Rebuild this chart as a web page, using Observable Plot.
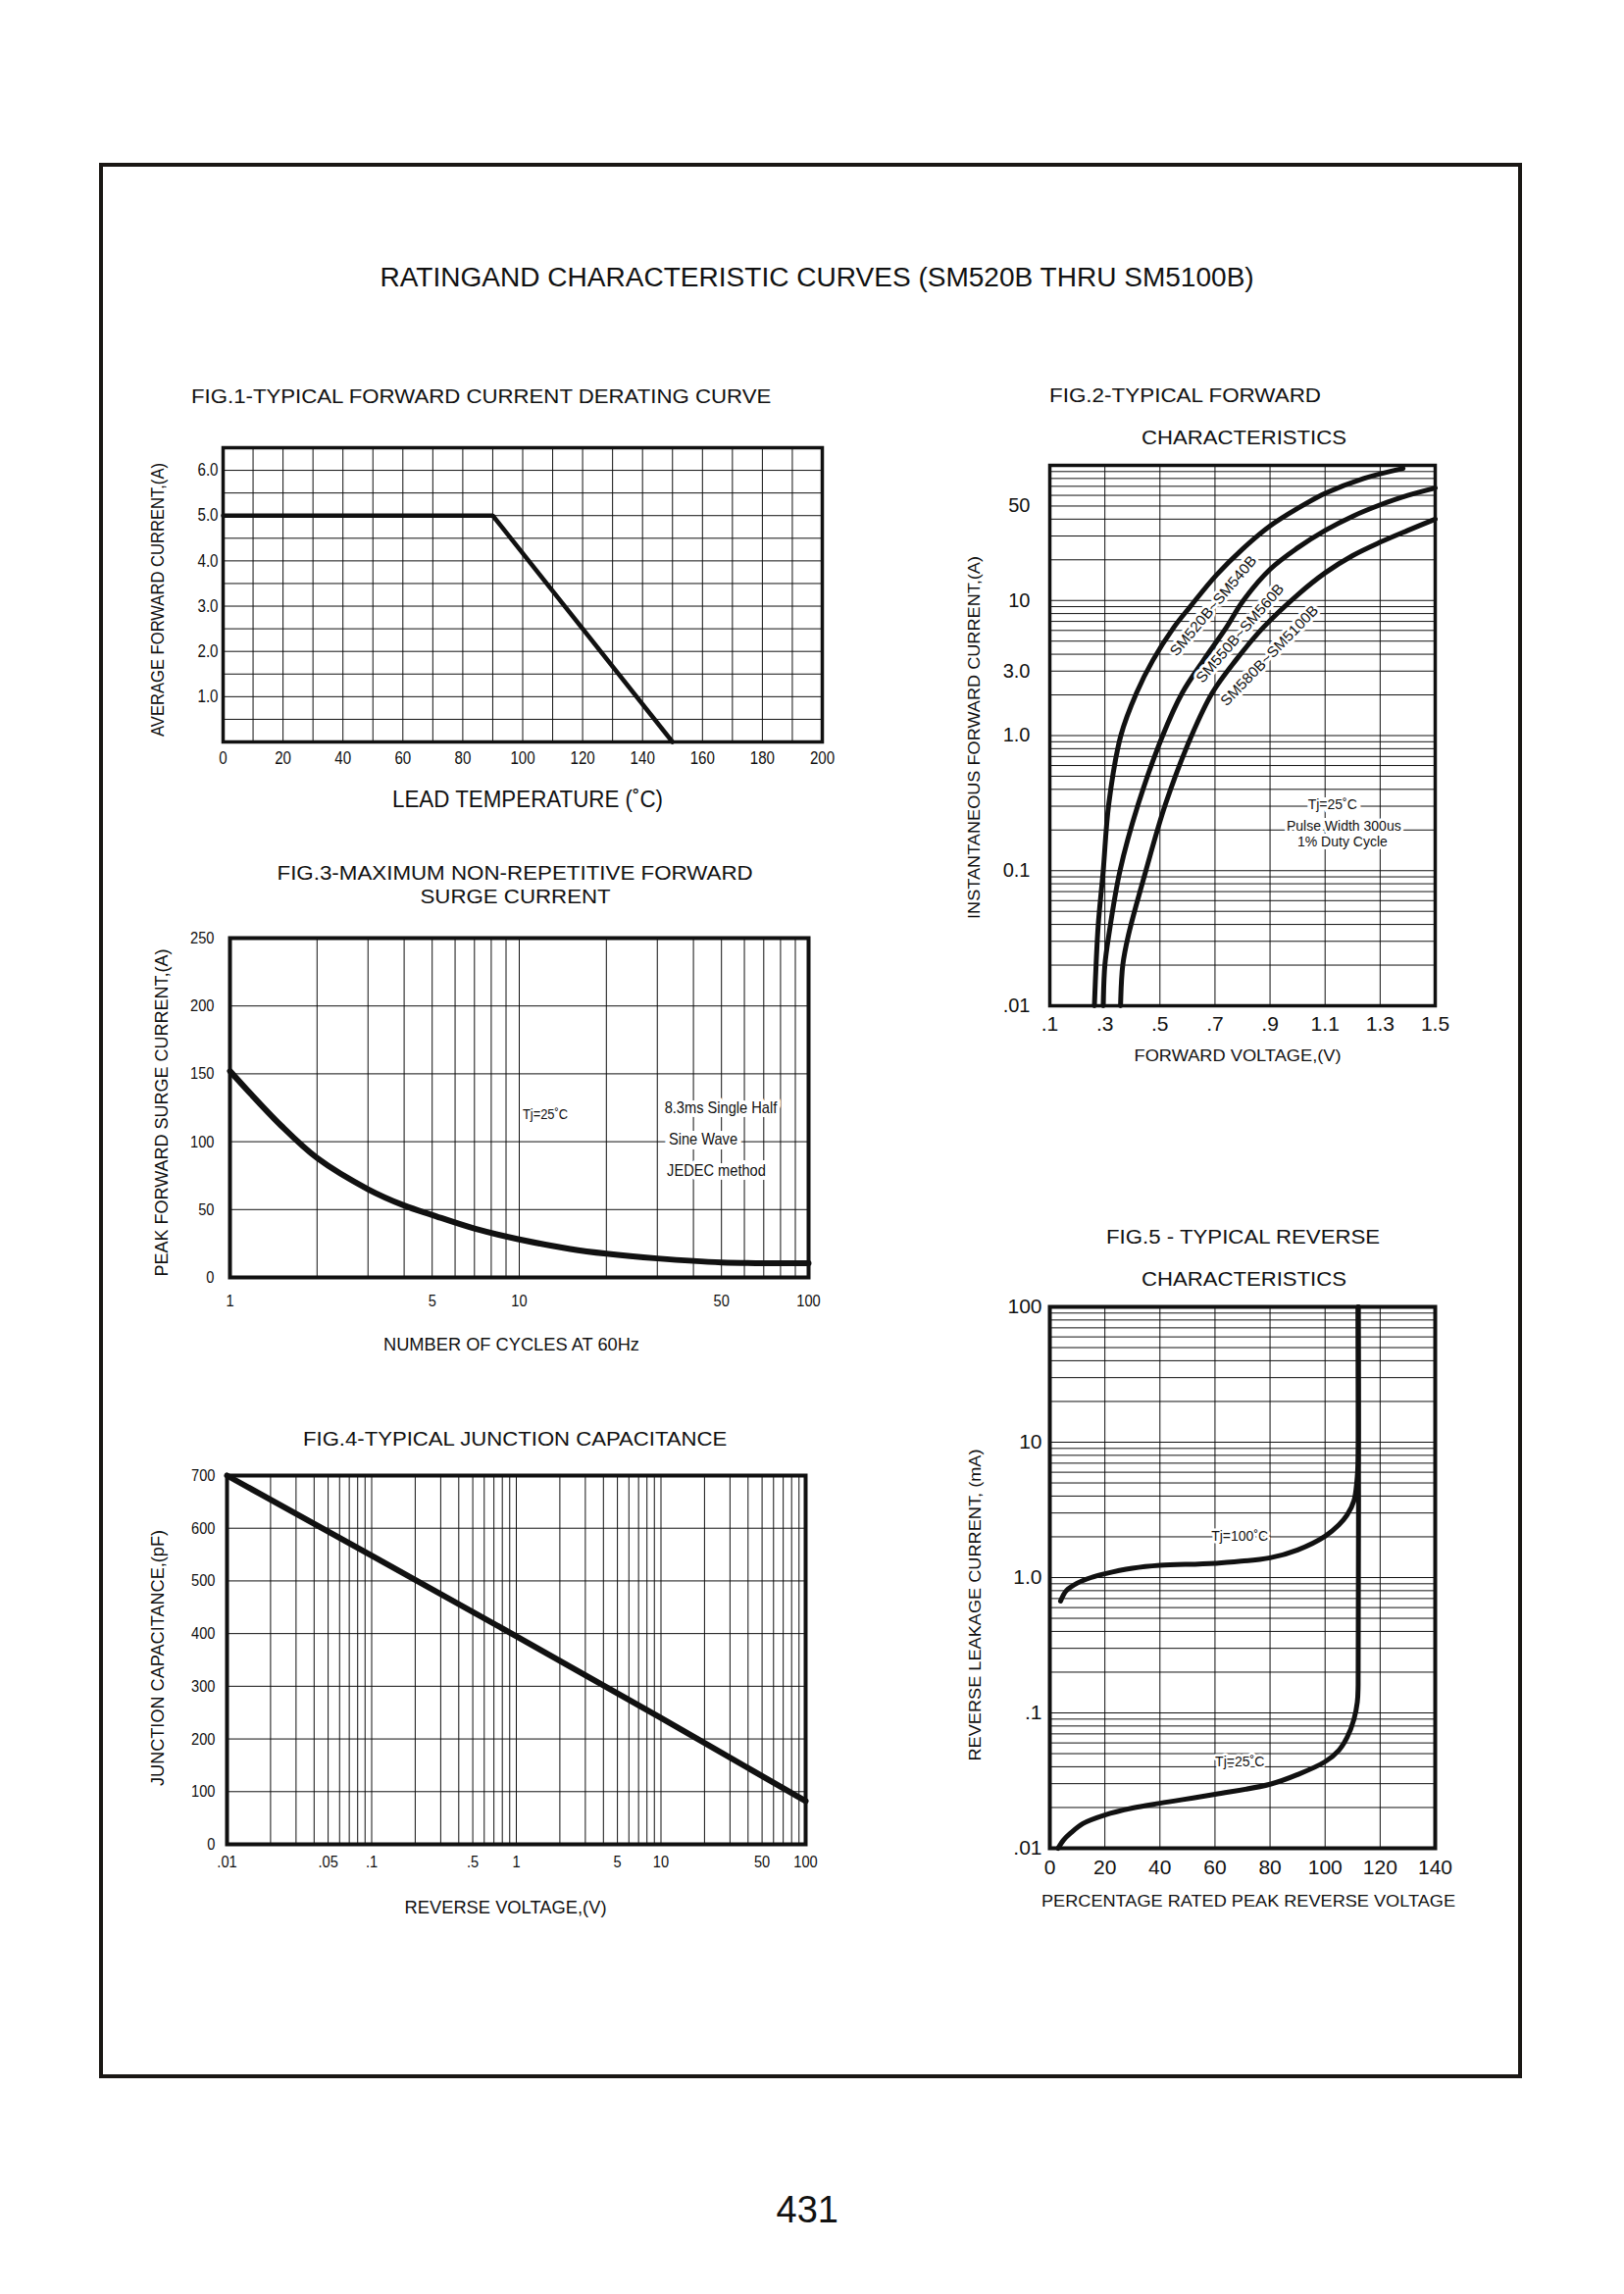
<!DOCTYPE html>
<html><head><meta charset="utf-8">
<script src="https://cdn.jsdelivr.net/npm/d3@7"></script>
<script src="https://cdn.jsdelivr.net/npm/@observablehq/plot@0.6"></script>
<style>
body{margin:0;background:#fff;}
#page{position:relative;width:1656px;height:2339px;overflow:hidden;font-family:"Liberation Sans",Arial,sans-serif;color:#111;background:#fff;}
.t{position:absolute;white-space:nowrap;line-height:1;}
#border{position:absolute;left:101px;top:166px;width:1451px;height:1953px;border:4px solid #1a1714;box-sizing:border-box;}
svg{position:absolute;overflow:visible;}
</style></head><body><div id="page"><div id="border"></div></div>
<script>
// ---------- DATA ----------
// Fig.1 derating curve
const fig1Temp = [0, 90, 150];
const fig1Current = [5.0, 5.0, 0.0];
const fig1XTicks = [0, 20, 40, 60, 80, 100, 120, 140, 160, 180, 200];
const fig1YTicks = [1, 2, 3, 4, 5, 6];

// Fig.2 forward characteristics
const fig2SeriesNames = ["SM520B~SM540B", "SM550B~SM560B", "SM580B~SM5100B"];
const fig2V_A = [0.262, 0.268, 0.276, 0.294, 0.314, 0.358, 0.415, 0.474, 0.55, 0.61, 0.705, 0.80, 0.90, 1.00, 1.10, 1.24, 1.383];
const fig2I_A = [0.01, 0.02, 0.04, 0.1, 0.31, 1.0, 2.07, 3.6, 6.3, 9.0, 15.4, 24, 35.6, 48, 62, 80, 95];
const fig2V_B = [0.294, 0.300, 0.314, 0.355, 0.421, 0.51, 0.581, 0.658, 0.741, 0.80, 0.90, 1.00, 1.10, 1.20, 1.30, 1.40, 1.50];
const fig2I_B = [0.01, 0.02, 0.033, 0.1, 0.31, 1.0, 2.07, 3.6, 6.3, 9.8, 17, 24.5, 33, 42, 51, 60, 68];
const fig2V_C = [0.357, 0.365, 0.385, 0.449, 0.52, 0.615, 0.69, 0.775, 0.875, 1.00, 1.10, 1.20, 1.30, 1.40, 1.50];
const fig2I_C = [0.01, 0.02, 0.033, 0.1, 0.31, 1.0, 2.07, 3.6, 6.3, 11, 16, 21.5, 27, 33, 40];
const fig2XTicks = [0.1, 0.3, 0.5, 0.7, 0.9, 1.1, 1.3, 1.5];
const fig2XLabels = [".1", ".3", ".5", ".7", ".9", "1.1", "1.3", "1.5"];
const fig2YTicks = [0.01, 0.1, 1, 3, 10, 50];
const fig2YLabels = [".01", "0.1", "1.0", "3.0", "10", "50"];
const fig2LabelPos = [[0.694, 9.1, -50], [0.791, 5.7, -49], [0.898, 3.9, -46]];

// Fig.3 surge current
const fig3Cycles = [1, 1.5, 2, 3, 4, 5, 7, 10, 15, 20, 30, 50, 70, 100];
const fig3Current = [152, 112, 88, 65, 53, 46, 36, 28, 21, 17.5, 14, 11, 10.5, 10.5];
const fig3XTicks = [1, 5, 10, 50, 100];
const fig3YTicks = [0, 50, 100, 150, 200, 250];

// Fig.4 junction capacitance
const fig4Voltage = [0.01, 0.1, 1, 10, 100];
const fig4Capacitance = [700, 548, 395, 240, 82];
const fig4XTicks = [0.01, 0.05, 0.1, 0.5, 1, 5, 10, 50, 100];
const fig4XLabels = [".01", ".05", ".1", ".5", "1", "5", "10", "50", "100"];
const fig4YTicks = [0, 100, 200, 300, 400, 500, 600, 700];

// Fig.5 reverse characteristics
const fig5Pct100 = [3.9, 6, 10, 15, 20, 30, 40, 60, 80, 90, 100, 105, 108, 110.5, 111.7, 112, 112];
const fig5I100 = [0.67, 0.8, 0.91, 1.0, 1.066, 1.17, 1.23, 1.275, 1.40, 1.6, 2.02, 2.45, 2.9, 3.7, 5.6, 8, 100];
const fig5Pct25 = [3, 5, 7.5, 12, 20, 30, 40, 60, 80, 90, 100, 105, 108, 110.5, 111.7, 112, 112];
const fig5I25 = [0.01, 0.0115, 0.0129, 0.0152, 0.0176, 0.0198, 0.0215, 0.025, 0.0297, 0.035, 0.0436, 0.053, 0.066, 0.09, 0.12, 0.16, 100];
const fig5XTicks = [0, 20, 40, 60, 80, 100, 120, 140];
const fig5YTicks = [0.01, 0.1, 1, 10, 100];
const fig5YLabels = [".01", ".1", "1.0", "10", "100"];

// ---------- HELPERS ----------
const page = document.getElementById("page");
const FONT = '"Liberation Sans",Arial,sans-serif';
const INK = "#111";
// target widths (px) of long labels, so condensed lettering matches the sheet
const FIT = {
  "LEAD TEMPERATURE (˚C)": 276, "AVERAGE FORWARD CURRENT,(A)": 279,
  "FORWARD VOLTAGE,(V)": 211, "INSTANTANEOUS FORWARD CURRENT,(A)": 370,
  "NUMBER OF CYCLES AT 60Hz": 261, "PEAK FORWARD SURGE CURRENT,(A)": 334,
  "REVERSE VOLTAGE,(V)": 206, "JUNCTION CAPACITANCE,(pF)": 261,
  "PERCENTAGE RATED PEAK REVERSE VOLTAGE": 422, "REVERSE LEAKAGE CURRENT, (mA)": 318,
  "SM520B~SM540B": 128, "SM550B~SM560B": 128, "SM580B~SM5100B": 136
};
function txt(s, cx, cy, size, width) {
  const d = document.createElement("div");
  d.className = "t";
  d.textContent = s;
  d.style.fontSize = size + "px";
  page.appendChild(d);
  const w = d.offsetWidth, h = d.offsetHeight;
  d.style.left = (cx - w / 2) + "px";
  d.style.top = (cy - h / 2) + "px";
  if (width) { d.style.transformOrigin = "50% 50%"; d.style.transform = `scaleX(${width / w})`; }
}
function logGrid(lo, hi) {
  const out = [];
  for (let e = Math.round(Math.log10(lo)); e < Math.round(Math.log10(hi)); e++)
    for (let k = 1; k < 10; k++) out.push(k * Math.pow(10, e));
  out.push(hi);
  return out;
}
function pts(xs, ys) { return xs.map((x, i) => ({x, y: ys[i]})); }
function fitTexts(svg, factor) {
  svg.querySelectorAll("text").forEach(t => {
    const s = t.textContent;
    const len = t.getComputedTextLength();
    const target = FIT[s] !== undefined ? FIT[s] : (factor ? len * factor : null);
    if (target && len > 0) {
      t.setAttribute("textLength", target);
      t.setAttribute("lengthAdjust", "spacingAndGlyphs");
    }
  });
}
function chart(frame, m, size, factor, x, y, marks) {
  const svg = Plot.plot({
    width: frame.R - frame.L + m.l + m.r,
    height: frame.B - frame.T + m.t + m.b,
    marginLeft: m.l, marginRight: m.r, marginTop: m.t, marginBottom: m.b,
    style: {fontFamily: FONT, fontSize: size + "px", color: INK, background: "transparent", overflow: "visible"},
    x, y, marks
  });
  svg.style.left = (frame.L - m.l) + "px";
  svg.style.top = (frame.T - m.t) + "px";
  page.appendChild(svg);
  fitTexts(svg, factor);
}
const gridStyle = {stroke: INK, strokeOpacity: 1, strokeWidth: 1};
const axisLab = (s, dx, dy, size) => Plot.text([s], {frameAnchor: "bottom", dx, dy, fontSize: size, fill: INK, textAnchor: "middle", lineAnchor: "middle"});
const axisLabY = (s, dx, dy, size) => Plot.text([s], {frameAnchor: "left", dx, dy, rotate: -90, fontSize: size, fill: INK, textAnchor: "middle", lineAnchor: "middle"});

// ---------- PAGE TEXT ----------
txt("RATINGAND CHARACTERISTIC CURVES (SM520B THRU SM5100B)", 833, 283, 27, 891);
txt("FIG.1-TYPICAL FORWARD CURRENT DERATING CURVE", 490, 403, 21, 591);
txt("FIG.2-TYPICAL FORWARD", 1208, 403, 20, 277);
txt("CHARACTERISTICS", 1268, 446, 20, 209);
txt("FIG.3-MAXIMUM NON-REPETITIVE FORWARD", 525, 889, 21, 485);
txt("SURGE CURRENT", 525, 913, 21, 194);
txt("FIG.4-TYPICAL JUNCTION CAPACITANCE", 525, 1466, 21, 432);
txt("FIG.5 - TYPICAL REVERSE", 1267, 1261, 20, 279);
txt("CHARACTERISTICS", 1268, 1304, 20, 209);
txt("431", 823, 2253, 38, null);

// ---------- FIG 1 ----------
{
  const F = {L: 227, T: 456, R: 838, B: 756}, m = {l: 90, t: 10, r: 30, b: 80};
  chart(F, m, 18, 0.84,
    {domain: [0, 200]},
    {domain: [0, 6.5]},
    [
      Plot.gridX(d3.range(0, 201, 10), gridStyle),
      Plot.gridY(d3.range(0, 6.51, 0.5), gridStyle),
      Plot.axisX(fig1XTicks, {tickSize: 0, tickPadding: 10, label: null, fill: INK}),
      Plot.axisY(fig1YTicks, {tickSize: 0, tickPadding: 5, tickFormat: d => d.toFixed(1), label: null, fill: INK}),
      Plot.line(pts(fig1Temp, fig1Current), {x: "x", y: "y", stroke: INK, strokeWidth: 4.5, strokeLinejoin: "miter"}),
      Plot.frame({stroke: INK, strokeWidth: 3.5}),
      axisLab("LEAD TEMPERATURE (˚C)", 5, 59, 23),
      axisLabY("AVERAGE FORWARD CURRENT,(A)", -67, 5, 19)
    ]);
}

// ---------- FIG 2 ----------
{
  const F = {L: 1070, T: 474, R: 1463, B: 1025}, m = {l: 100, t: 10, r: 30, b: 70};
  const series = [[fig2V_A, fig2I_A], [fig2V_B, fig2I_B], [fig2V_C, fig2I_C]];
  chart(F, m, 21, null,
    {domain: [0.1, 1.5]},
    {type: "log", domain: [0.01, 100], axis: null},
    [
      Plot.gridX([0.3, 0.5, 0.7, 0.9, 1.1, 1.3], gridStyle),
      Plot.gridY(logGrid(0.01, 100), gridStyle),
      Plot.axisX(fig2XTicks, {tickSize: 0, tickPadding: 11, tickFormat: d => fig2XLabels[fig2XTicks.indexOf(d)], label: null, fill: INK}),
      Plot.text(fig2YTicks, {y: d => d, text: (d, i) => fig2YLabels[i], frameAnchor: "left", textAnchor: "end", dx: -20, fill: INK, fontSize: 20}),
      ...series.map(([v, i]) => Plot.line(pts(v, i), {x: "x", y: "y", curve: "catmull-rom", stroke: INK, strokeWidth: 5})),
      ...fig2SeriesNames.map((s, k) => Plot.text([s], {x: fig2LabelPos[k][0], y: fig2LabelPos[k][1], rotate: fig2LabelPos[k][2], fontSize: 15, fill: INK, stroke: "white", strokeWidth: 6})),
      Plot.text(["Tj=25˚C"], {x: 1.127, y: 0.31, fontSize: 14, fill: INK, stroke: "white", strokeWidth: 8}),
      Plot.text(["Pulse Width 300us"], {x: 1.168, y: 0.212, fontSize: 14, fill: INK, stroke: "white", strokeWidth: 6}),
      Plot.text(["1% Duty Cycle"], {x: 1.163, y: 0.163, fontSize: 14, fill: INK, stroke: "white", strokeWidth: 6}),
      Plot.frame({stroke: INK, strokeWidth: 3.5}),
      axisLab("FORWARD VOLTAGE,(V)", -5, 51, 16),
      axisLabY("INSTANTANEOUS FORWARD CURRENT,(A)", -77, 2, 16)
    ]);
}

// ---------- FIG 3 ----------
{
  const F = {L: 234, T: 956, R: 824, B: 1302}, m = {l: 90, t: 20, r: 30, b: 90};
  chart(F, m, 17, 0.86,
    {type: "log", domain: [1, 100], axis: null},
    {domain: [0, 250]},
    [
      Plot.gridX(logGrid(1, 100), gridStyle),
      Plot.gridY(fig3YTicks, gridStyle),
      Plot.text(fig3XTicks, {x: d => d, text: d => String(d), frameAnchor: "bottom", lineAnchor: "middle", dy: 24, fill: INK}),
      Plot.axisY(fig3YTicks, {tickSize: 0, tickPadding: 16, label: null, fill: INK}),
      Plot.line(pts(fig3Cycles, fig3Current), {x: "x", y: "y", curve: "catmull-rom", stroke: INK, strokeWidth: 6}),
      Plot.text(["Tj=25˚C"], {x: 12.3, y: 120, fontSize: 15, fill: INK, stroke: "white", strokeWidth: 6}),
      Plot.text(["8.3ms Single Half"], {x: 49.7, y: 125, fontSize: 17, fill: INK, stroke: "white", strokeWidth: 8}),
      Plot.text(["Sine Wave"], {x: 43.2, y: 102, fontSize: 17, fill: INK, stroke: "white", strokeWidth: 10}),
      Plot.text(["JEDEC method"], {x: 48, y: 79, fontSize: 17, fill: INK, stroke: "white", strokeWidth: 8}),
      Plot.frame({stroke: INK, strokeWidth: 4}),
      axisLab("NUMBER OF CYCLES AT 60Hz", -8, 69, 18),
      axisLabY("PEAK FORWARD SURGE CURRENT,(A)", -70, 5, 19)
    ]);
}

// ---------- FIG 4 ----------
{
  const F = {L: 231, T: 1504, R: 821, B: 1880}, m = {l: 90, t: 20, r: 30, b: 90};
  chart(F, m, 17, 0.86,
    {type: "log", domain: [0.01, 100], axis: null},
    {domain: [0, 700]},
    [
      Plot.gridX(logGrid(0.01, 100), gridStyle),
      Plot.gridY(fig4YTicks, gridStyle),
      Plot.text(fig4XTicks, {x: d => d, text: (d, i) => fig4XLabels[i], frameAnchor: "bottom", lineAnchor: "middle", dy: 18, fill: INK}),
      Plot.axisY(fig4YTicks, {tickSize: 0, tickPadding: 12, label: null, fill: INK}),
      Plot.line(pts(fig4Voltage, fig4Capacitance), {x: "x", y: "y", stroke: INK, strokeWidth: 6}),
      Plot.frame({stroke: INK, strokeWidth: 4}),
      axisLab("REVERSE VOLTAGE,(V)", -11, 65, 18),
      axisLabY("JUNCTION CAPACITANCE,(pF)", -70, -2, 18)
    ]);
}

// ---------- FIG 5 ----------
{
  const F = {L: 1070, T: 1332, R: 1463, B: 1884}, m = {l: 100, t: 10, r: 40, b: 70};
  chart(F, m, 21, null,
    {domain: [0, 140]},
    {type: "log", domain: [0.01, 100], axis: null},
    [
      Plot.gridX(fig5XTicks, gridStyle),
      Plot.gridY(logGrid(0.01, 100), gridStyle),
      Plot.axisX(fig5XTicks, {tickSize: 0, tickPadding: 12, label: null, fill: INK}),
      Plot.text(fig5YTicks, {y: d => d, text: (d, i) => fig5YLabels[i], frameAnchor: "left", textAnchor: "end", dx: -8, fill: INK}),
      Plot.line(pts(fig5Pct100, fig5I100), {x: "x", y: "y", curve: "catmull-rom", stroke: INK, strokeWidth: 5}),
      Plot.line(pts(fig5Pct25, fig5I25), {x: "x", y: "y", curve: "catmull-rom", stroke: INK, strokeWidth: 5}),
      Plot.text(["Tj=100˚C"], {x: 69, y: 2.0, fontSize: 14, fill: INK, stroke: "white", strokeWidth: 5}),
      Plot.text(["Tj=25˚C"], {x: 69, y: 0.0436, fontSize: 14, fill: INK, stroke: "white", strokeWidth: 5}),
      Plot.frame({stroke: INK, strokeWidth: 4}),
      axisLab("PERCENTAGE RATED PEAK REVERSE VOLTAGE", 6, 54, 16.5),
      axisLabY("REVERSE LEAKAGE CURRENT, (mA)", -76, 28, 16)
    ]);
}
</script>
</body></html>
